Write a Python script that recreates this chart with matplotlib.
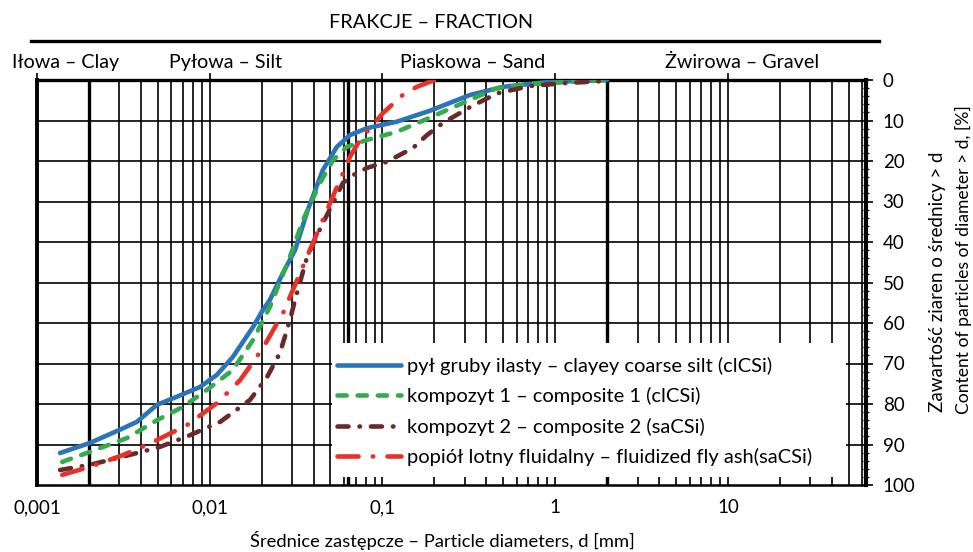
import matplotlib
matplotlib.use("Agg")
import matplotlib.pyplot as plt
from matplotlib.patches import Rectangle
from matplotlib.ticker import MultipleLocator, NullLocator

plt.rcParams['font.family'] = ['Lato', 'DejaVu Sans']

# grain size curves: diameter d [mm] and content of particles > d [%]
d_silt = [0.00136, 0.00203, 0.00315, 0.00379, 0.00495, 0.00646, 0.00878, 0.0110,
          0.0136, 0.0178, 0.0203, 0.0223, 0.0265, 0.0312, 0.037, 0.0452, 0.0545,
          0.0648, 0.0814, 0.121, 0.188, 0.321, 0.498, 0.896, 2.0]
p_silt = [92.1, 89.6, 86.0, 84.4, 80.2, 78.2, 75.8, 72.8,
          68.4, 61.0, 56.8, 54.3, 47.7, 42.0, 32.0, 22.2, 16.5,
          13.6, 11.9, 10.3, 7.6, 3.7, 1.7, 0.5, 0.0]

d_comp1 = [0.00140, 0.00203, 0.00332, 0.00495, 0.0070, 0.0100, 0.0136, 0.0178,
           0.0223, 0.0291, 0.0347, 0.0435, 0.0517, 0.0623, 0.0814, 0.121, 0.188,
           0.321, 0.460, 0.714, 1.59, 2.0]
p_comp1 = [94.3, 91.8, 88.4, 84.0, 80.7, 76.0, 71.6, 64.2,
           56.0, 43.7, 34.6, 25.4, 19.8, 16.5, 14.8, 12.8, 9.3,
           4.9, 2.0, 1.0, 0.2, 0.0]

d_comp2 = [0.00136, 0.00203, 0.00315, 0.00515, 0.00769, 0.0115, 0.0171, 0.0215,
           0.0255, 0.0291, 0.0312, 0.0366, 0.0452, 0.0517, 0.059, 0.0675, 0.0814,
           0.106, 0.150, 0.181, 0.224, 0.321, 0.460, 0.714, 1.109, 2.0]
p_comp2 = [96.3, 95.0, 93.0, 90.6, 87.7, 84.4, 79.0, 73.3,
           67.4, 59.3, 54.3, 43.7, 35.3, 30.4, 25.4, 23.5, 21.7,
           20.2, 16.8, 13.6, 10.6, 6.7, 3.3, 1.5, 0.8, 0.2]

d_ash = [0.00140, 0.00203, 0.00315, 0.00469, 0.00739, 0.0110, 0.0150, 0.0203,
         0.0266, 0.0291, 0.0396, 0.0497, 0.0568, 0.0648, 0.0741, 0.0847, 0.101,
         0.131, 0.158, 0.20]
p_ash = [97.5, 95.5, 92.6, 89.4, 85.2, 79.8, 74.1, 66.2,
         57.5, 53.6, 40.2, 30.4, 24.7, 19.0, 14.8, 11.9, 8.1,
         3.7, 1.7, 0.0]

labels = ['pył gruby ilasty – clayey coarse silt (clCSi)',
          'kompozyt 1 – composite 1 (clCSi)',
          'kompozyt 2 – composite 2 (saCSi)',
          'popiół lotny fluidalny – fluidized fly ash(saCSi)']

x_ticks = [0.001, 0.01, 0.1, 1, 10]
x_tick_labels = ['0,001', '0,01', '0,1', '1', '10']

# fraction boundaries and their names
bounds = [0.002, 0.063, 2, 63]
fractions = ['Iłowa – Clay', 'Pyłowa – Silt', 'Piaskowa – Sand', 'Żwirowa – Gravel']
fraction_x = [66, 226, 473, 742]

fig = plt.figure(figsize=(9.73, 5.52), dpi=100)
W, H = 973.0, 552.0
ax = fig.add_axes([37 / W, 1 - 485 / H, 829 / W, 405 / H])
ax.set_xscale('log')
ax.set_xlim(0.001, 63)
ax.set_ylim(100, 0)

# grid
for e in range(-3, 2):
    for m in range(1, 10):
        ax.axvline(m * 10.0 ** e, color='black', lw=1.2, zorder=1)
for b in bounds:
    ax.axvline(b, color='black', lw=2.4, zorder=1)
for p in range(10, 100, 10):
    ax.axhline(p, color='black', lw=1.2, zorder=1)

# white box behind the legend
ax.add_patch(Rectangle(((332 - 37) / 829.0, (485 - 477) / 405.0), 514 / 829.0, 134 / 405.0,
                       transform=ax.transAxes, fc='white', ec='none', zorder=2))

lw = 3.3
ax.plot(d_silt, p_silt, color='#2b74b8', lw=lw, solid_capstyle='round', zorder=4, label=labels[0])
ax.plot(d_comp1, p_comp1, color='#35aa4f', lw=lw, dashes=(2.0, 2.4), dash_capstyle='round',
        zorder=4, label=labels[1])
ax.plot(d_comp2, p_comp2, color='#6b2a2a', lw=lw, dashes=(2.4, 2.4, 0.1, 2.4),
        dash_capstyle='round', zorder=4, label=labels[2])
ax.plot(d_ash, p_ash, color='#e8312b', lw=lw, dashes=(4.6, 3.1, 0.1, 3.1),
        dash_capstyle='round', zorder=4, label=labels[3])

leg = ax.legend(loc='center left', bbox_to_anchor=((337 - 37) / 829.0, (485 - 411.5) / 405.0),
                frameon=False, fontsize=14.5, handlelength=3.2, handletextpad=0.3,
                labelspacing=0.62, borderaxespad=0, borderpad=0)
leg.set_zorder(5)

for side, w in [('left', 2.8), ('top', 2.4), ('bottom', 1.8), ('right', 3.0)]:
    ax.spines[side].set_linewidth(w)

ax.yaxis.tick_right()
ax.set_yticks(range(0, 101, 10))
ax.yaxis.set_minor_locator(MultipleLocator(2))
ax.tick_params(axis='y', which='major', direction='out', length=5, width=1.2,
               labelsize=13.5, pad=7)
ax.tick_params(axis='y', which='minor', direction='inout', length=4, width=0.9)

ax.set_xticks(x_ticks)
ax.set_xticklabels(x_tick_labels)
ax.xaxis.set_minor_locator(NullLocator())
ax.tick_params(axis='x', which='major', top=True, bottom=False, direction='out',
               length=5, width=1.2, labelsize=13.5, pad=5)

fig.text(442 / W, 1 - 540 / H, 'Średnice zastępcze – Particle diameters, d [mm]',
         ha='center', va='center', fontsize=13.2)
fig.text(938 / W, 1 - 282 / H, 'Zawartość ziaren o średnicy > d', rotation=90,
         ha='center', va='center', fontsize=13.5)
fig.text(963 / W, 1 - 260 / H, 'Content of particles of diameter > d, [%]', rotation=90,
         ha='center', va='center', fontsize=12.6)

# fraction header
fig.text(431 / W, 1 - 22 / H, 'FRAKCJE – FRACTION', ha='center', va='center', fontsize=14.3)
fig.add_artist(plt.Line2D([31 / W, 879 / W], [1 - 41 / H, 1 - 41 / H], color='black', lw=2.4))
for name, x in zip(fractions, fraction_x):
    fig.text(x / W, 1 - 62 / H, name, ha='center', va='center', fontsize=14.2)

fig.savefig('out.png', dpi=100)
